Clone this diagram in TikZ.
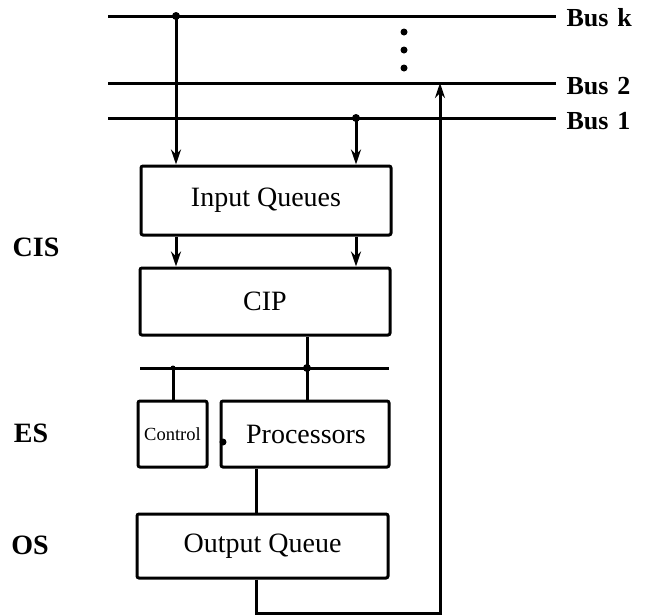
\documentclass[tikz,border=0pt]{standalone}
\usepackage{fontspec}
\setmainfont{Liberation Serif}
\usetikzlibrary{arrows.meta}
\begin{document}
\begin{tikzpicture}[x=1pt,y=-1pt,
  line width=3pt,
  boxnode/.style={draw,rounded corners=2pt,inner sep=0pt,font=\fontsize{28}{30}\selectfont},
  smallbox/.style={draw,rounded corners=2pt,inner sep=0pt,font=\fontsize{18.5}{20}\selectfont},
  lbl/.style={inner sep=0pt,font=\fontsize{28}{30}\selectfont\bfseries},
  buslbl/.style={anchor=west,inner sep=0pt,font=\fontsize{26}{28}\selectfont\bfseries},
  arr/.style={-{Stealth[length=15pt,width=10pt]}},
  jdot/.style={fill,circle,inner sep=0pt,minimum size=8pt}]
\useasboundingbox (0,0) rectangle (646,616);
% buses
\coordinate (bkL) at (108,16);  \coordinate (bkR) at (556,16);
\coordinate (b2L) at (108,83);  \coordinate (b2R) at (556,83);
\coordinate (b1L) at (108,118); \coordinate (b1R) at (556,118);
\draw (bkL) -- (bkR);
\draw (b2L) -- (b2R);
\draw (b1L) -- (b1R);
\node[buslbl] (lk) at (565,18) {Bus\hspace{9pt}k};
\node[buslbl] (l2) at (565,86) {Bus\hspace{9pt}2};
\node[buslbl] (l1) at (565,121) {Bus\hspace{9pt}1};
\node[jdot,minimum size=7pt] (d1) at (404,32) {};
\node[jdot,minimum size=7pt] (d2) at (404,50) {};
\node[jdot,minimum size=7pt] (d3) at (404,68) {};
% boxes
\node[boxnode,minimum width=250pt,minimum height=69pt] (iq) at (266,200.5) {Input Queues};
\node[boxnode,minimum width=250pt,minimum height=67pt] (cip) at (265,301.5) {CIP};
\node[smallbox,minimum width=69pt,minimum height=66pt] (ctl) at (172.5,434) {Control};
\node[boxnode,minimum width=168pt,minimum height=66pt] (proc) at (305,434) {\hspace*{2pt}Processors};
\node[boxnode,minimum width=251pt,minimum height=64pt] (oq) at (262.5,546) {Output Queue};
% side labels
\node[lbl] (cis) at (36,247) {CIS};
\node[lbl] (es) at (31,433) {ES};
\node[lbl] (os) at (30,545) {OS};
% bus taps
\coordinate (jk) at (176,16);
\coordinate (j1) at (356,118);
\node[jdot] at (jk) {};
\node[jdot] at (j1) {};
\draw[arr] (jk) -- (jk |- iq.north);
\draw[arr] (j1) -- (j1 |- iq.north);
% IQ -> CIP
\draw[arr] (iq.south -| jk) -- (cip.north -| jk);
\draw[arr] (iq.south -| j1) -- (cip.north -| j1);
% execution bar
\coordinate (barL) at (140,368); \coordinate (barR) at (389,368);
\draw (barL) -- (barR);
\coordinate (jc) at (307,368);
\coordinate (jl) at (173,368);
\node[jdot] at (jc) {};
\node[jdot,minimum size=5pt] at (jl) {};
\draw (cip.south -| jc) -- (jc);
\draw (jc) -- (proc.north -| jc);
\draw (jl) -- (ctl.north -| jl);
\node[jdot,minimum size=7pt] (pd) at (223,442) {};
% proc -> OQ
\coordinate (po) at (256,467);
\draw (proc.south -| po) -- (oq.north -| po);
% feedback to Bus 2
\coordinate (fb1) at (256,613);
\coordinate (fb2) at (440,613);
\coordinate (fb3) at (440,83);
\draw[arr,line join=miter] (oq.south -| fb1) -- (fb1) -- (fb2) -- (fb3);
\end{tikzpicture}
\end{document}
